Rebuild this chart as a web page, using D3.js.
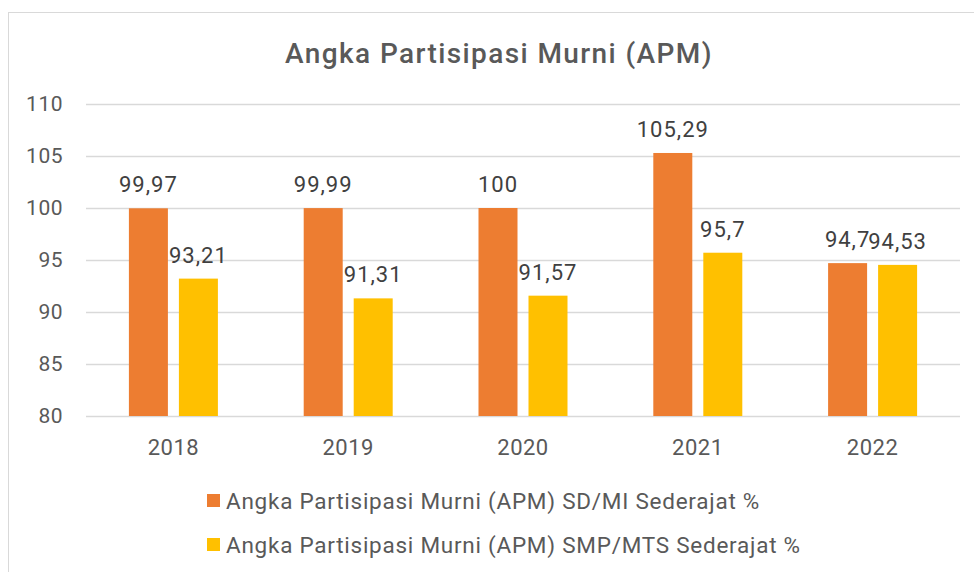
<!DOCTYPE html>
<html>
<head>
<meta charset="utf-8">
<script src="https://cdn.jsdelivr.net/npm/d3@7"></script>
<style>
  body { margin: 0; background: #fff; }
  svg text { font-family: Roboto, "Noto Sans", sans-serif; }
</style>
</head>
<body>
<svg id="chart"></svg>
<script>
var years = ["2018", "2019", "2020", "2021", "2022"];
var sdValues = [99.97, 99.99, 100, 105.29, 94.7];
var smpValues = [93.21, 91.31, 91.57, 95.7, 94.53];
var seriesNames = ["Angka Partisipasi Murni (APM) SD/MI Sederajat %",
                   "Angka Partisipasi Murni (APM) SMP/MTS Sederajat %"];
var colors = ["#ed7d31", "#ffc000"];
var yTicks = [80, 85, 90, 95, 100, 105, 110];

var width = 974, height = 572;
var svg = d3.select("#chart").attr("width", width).attr("height", height);

// outer frame
svg.append("rect")
  .attr("x", 8.5).attr("y", 12.5)
  .attr("width", width + 10).attr("height", height + 10)
  .attr("fill", "#fff").attr("stroke", "#d9d9d9");

svg.append("text")
  .attr("x", 499).attr("y", 63)
  .attr("text-anchor", "middle")
  .attr("font-size", 28).attr("font-weight", 500).attr("letter-spacing", 1.4)
  .attr("fill", "#595959")
  .text("Angka Partisipasi Murni (APM)");

var x = d3.scaleBand().domain(years).range([86, 960]);
var y = d3.scaleLinear().domain([80, 110]).range([416, 104]);

// gridlines
svg.append("g").selectAll("line").data(yTicks).join("line")
  .attr("x1", 86).attr("x2", 960)
  .attr("y1", d => y(d) + 0.5).attr("y2", d => y(d) + 0.5)
  .attr("stroke", "#d9d9d9").attr("stroke-width", 1.5);

var yAxis = svg.append("g").attr("transform", "translate(63,0)")
  .call(d3.axisLeft(y).tickValues(yTicks).tickSize(0).tickPadding(0));
yAxis.select(".domain").remove();
yAxis.selectAll("text").attr("font-size", 21).attr("letter-spacing", 0.5).attr("fill", "#595959")
  .attr("font-family", "Roboto, sans-serif");

var xAxis = svg.append("g").attr("transform", "translate(0,416)")
  .call(d3.axisBottom(x).tickSize(0).tickPadding(23));
xAxis.select(".domain").remove();
xAxis.selectAll("text").attr("font-size", 22).attr("letter-spacing", 0.5).attr("fill", "#595959")
  .attr("font-family", "Roboto, sans-serif");

var barW = 39, gap = 11;
var series = [sdValues, smpValues];
series.forEach(function(vals, s) {
  var off = s === 0 ? -gap / 2 - barW : gap / 2;
  var g = svg.append("g");
  g.selectAll("rect").data(vals).join("rect")
    .attr("x", (d, i) => x(years[i]) + x.bandwidth() / 2 + off)
    .attr("y", d => y(d))
    .attr("width", barW)
    .attr("height", d => y(80) - y(d))
    .attr("fill", colors[s]);
  g.selectAll("text").data(vals).join("text")
    .attr("x", (d, i) => x(years[i]) + x.bandwidth() / 2 + off + barW / 2)
    .attr("y", d => y(d) - 16)
    .attr("text-anchor", "middle")
    .attr("font-size", 22).attr("letter-spacing", 1).attr("fill", "#404040")
    .text(d => String(d).replace(".", ","));
});

// legend
var legend = svg.append("g");
seriesNames.forEach(function(name, i) {
  var base = 509 + i * 44;
  legend.append("rect")
    .attr("x", 207).attr("y", base - 15).attr("width", 13).attr("height", 13)
    .attr("fill", colors[i]);
  legend.append("text")
    .attr("x", 226).attr("y", base)
    .attr("font-size", 22.5).attr("letter-spacing", 0.75).attr("fill", "#595959")
    .text(name);
});
</script>
</body>
</html>
